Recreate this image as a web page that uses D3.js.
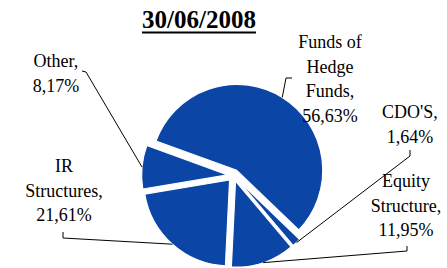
<!DOCTYPE html>
<html>
<head>
<meta charset="utf-8">
<script src="https://cdn.jsdelivr.net/npm/d3@7"></script>
<style>
html,body{margin:0;padding:0;background:#fff;}
svg{display:block;}
</style>
</head>
<body>
<svg id="chart" width="447" height="268"></svg>
<script>
// ---- data ----
const title = "30/06/2008";
const categories = ["Funds of Hedge Funds", "CDO'S", "Equity Structure", "IR Structures", "Other"];
const values = [56.63, 1.64, 11.95, 21.61, 8.17];
const labelLines = [["Funds of", "Hedge", "Funds,"], ["CDO'S,"], ["Equity", "Structure,"], ["IR", "Structures,"], ["Other,"]];

// ---- layout ----
const W = 447, H = 268;
const cx = 233.6, cy = 175.5, R = 86, explode = 6;
const startDeg = 290;
const fill = "#0b45a6";
const FONT = "'Liberation Serif', 'Times New Roman', Times, serif";
// label layout: centre x, first baseline, leader start points
const labelLayout = [
  {x: 330, y: 48, lead: [[292, 78], [286, 78]]},
  {x: 410, y: 118, lead: [[410, 150], [410, 156]]},
  {x: 406, y: 187, lead: [[407, 246], [407, 251]]},
  {x: 64, y: 172, lead: [[63, 232], [63, 238]]},
  {x: 56, y: 67, lead: [[82, 71], [86, 72]]}
];
const lineH = 24.5;

const svg = d3.select("#chart");
const fmt = v => d3.format(".2f")(v).replace(".", ",") + "%";

// title
const t = svg.append("text")
  .attr("x", 199).attr("y", 28)
  .attr("text-anchor", "middle")
  .attr("font-family", FONT)
  .attr("font-size", 25).attr("font-weight", "bold")
  .text(title);
const tw = t.node().getComputedTextLength();
svg.append("line")
  .attr("x1", 199 - tw / 2).attr("x2", 199 + tw / 2)
  .attr("y1", 32.5).attr("y2", 32.5)
  .attr("stroke", "#000").attr("stroke-width", 2);

const rad = Math.PI / 180;
const pie = d3.pie().sort(null)
  .startAngle(startDeg * rad).endAngle((startDeg + 360) * rad);
const arcs = pie(values);
const arc = d3.arc().innerRadius(0).outerRadius(R);

const g = svg.append("g");
arcs.forEach((d, i) => {
  const mid = (d.startAngle + d.endAngle) / 2;
  const ox = cx + explode * Math.sin(mid), oy = cy - explode * Math.cos(mid);
  g.append("path")
    .attr("d", arc(d))
    .attr("transform", `translate(${ox},${oy})`)
    .attr("fill", fill)
    .attr("stroke", "#fff").attr("stroke-width", 1.2)
    .attr("stroke-linejoin", "round");
  // leader line
  const L = labelLayout[i];
  const px = ox + R * Math.sin(mid), py = oy - R * Math.cos(mid);
  const pts = L.lead.concat([[px, py]]);
  svg.append("path")
    .attr("d", d3.line()(pts))
    .attr("fill", "none").attr("stroke", "#000").attr("stroke-width", 1);
});

// labels
arcs.forEach((d, i) => {
  const L = labelLayout[i];
  const lines = labelLines[i].concat([fmt(values[i])]);
  const txt = svg.append("text")
    .attr("text-anchor", "middle")
    .attr("font-family", FONT)
    .attr("font-size", 18);
  lines.forEach((s, k) => {
    txt.append("tspan").attr("x", L.x).attr("y", L.y + k * lineH)
      .attr("font-family", FONT).text(s);
  });
});
</script>
</body>
</html>
